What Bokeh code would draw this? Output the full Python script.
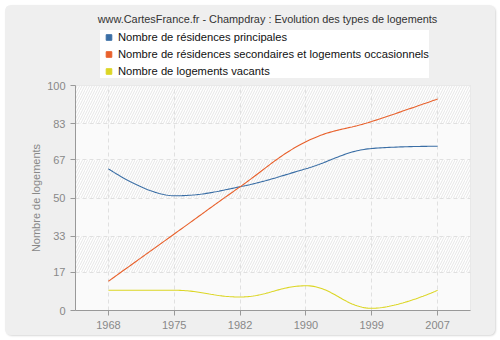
import numpy as np
from bokeh.plotting import figure
from bokeh.layouts import column
from bokeh.models import (ColumnDataSource, FixedTicker, Range1d, Legend, LegendItem)
from bokeh.core.properties import value
from bokeh.embed import file_html
from bokeh.resources import INLINE

years = ["1968", "1975", "1982", "1990", "1999", "2007"]
principales = [63, 51, 55, 63, 72, 73]
secondaires = [13, 34, 55, 75, 84, 94]
vacants = [9, 9, 6, 11, 1, 9]
y_ticks = [0, 17, 33, 50, 67, 83, 100]

title = "www.CartesFrance.fr - Champdray : Evolution des types de logements"
labels = ["Nombre de résidences principales",
          "Nombre de résidences secondaires et logements occasionnels",
          "Nombre de logements vacants"]
colors = ["#3a6ea5", "#e8612c", "#dcd625"]

FONT = "Liberation Sans"
PANEL = "#efefef"

# Highcharts-like spline rendering of the points (pixel-ish aspect)
SX, SY = 66.0, 2.25

def spline(ys, n=40):
    xs = [i * SX for i in range(len(ys))]
    py = [-v * SY for v in ys]
    m = len(xs)
    left = [None] * m
    right = [None] * m
    sm = 1.5
    d = sm + 1
    for i in range(1, m - 1):
        lx, ly = xs[i - 1], py[i - 1]
        nx, ny = xs[i + 1], py[i + 1]
        x, y = xs[i], py[i]
        lcx = (sm * x + lx) / d
        lcy = (sm * y + ly) / d
        rcx = (sm * x + nx) / d
        rcy = (sm * y + ny) / d
        corr = 0
        if rcx != lcx:
            corr = ((rcy - lcy) * (rcx - x)) / (rcx - lcx) + y - rcy
        lcy += corr
        rcy += corr
        if lcy > ly and lcy > y:
            lcy = max(ly, y); rcy = 2 * y - lcy
        elif lcy < ly and lcy < y:
            lcy = min(ly, y); rcy = 2 * y - lcy
        if rcy > ny and rcy > y:
            rcy = max(ny, y); lcy = 2 * y - rcy
        elif rcy < ny and rcy < y:
            rcy = min(ny, y); lcy = 2 * y - rcy
        left[i] = (lcx, lcy)
        right[i] = (rcx, rcy)
    outx, outy = [xs[0]], [py[0]]
    t = np.linspace(0, 1, n)[1:]
    for i in range(1, m):
        p0 = (xs[i - 1], py[i - 1])
        p1 = right[i - 1] or p0
        p3 = (xs[i], py[i])
        p2 = left[i] or p3
        bx = (1 - t) ** 3 * p0[0] + 3 * (1 - t) ** 2 * t * p1[0] + 3 * (1 - t) * t ** 2 * p2[0] + t ** 3 * p3[0]
        by = (1 - t) ** 3 * p0[1] + 3 * (1 - t) ** 2 * t * p1[1] + 3 * (1 - t) * t ** 2 * p2[1] + t ** 3 * p3[1]
        outx.extend(bx.tolist()); outy.extend(by.tolist())
    return [x / SX for x in outx], [-y / SY for y in outy]

# ---------- header figure (title + legend) ----------
# its frame is aligned with the chart's frame by the column layout
top = figure(width=490, height=75, output_backend="svg", toolbar_location=None,
             x_range=Range1d(75, 470), y_range=Range1d(80, 5),
             x_axis_location=None, y_axis_location=None,
             min_border=0, background_fill_color=PANEL, border_fill_color=PANEL,
             outline_line_color=None)
top.grid.visible = False
top.title = None
top.text(x=[267], y=[18], text=[title], text_align="center",
         text_baseline="middle", text_font=value(FONT), text_font_size="10.9px",
         text_color="#333333")

leg_rs = []
for col in colors:
    r = top.scatter(x=[-100], y=[-100], marker="square", size=7, fill_color=col, line_color=col)
    leg_rs.append(r)
legend = Legend(items=[LegendItem(label=l, renderers=[r]) for l, r in zip(labels, leg_rs)],
                location=(25, 2), orientation="vertical",
                background_fill_color="#ffffff", background_fill_alpha=1,
                border_line_color=None, label_text_font=FONT, label_text_font_size="11.2px",
                label_text_color="#111111", glyph_width=17, glyph_height=14,
                label_height=14, spacing=3, padding=2, margin=0, label_standoff=1)
top.add_layout(legend, "center")

# ---------- main chart ----------
p = figure(width=490, height=255, output_backend="svg", toolbar_location=None,
           x_range=Range1d(-0.5, 5.5), y_range=Range1d(0, 100),
           min_border_left=70, min_border_right=25, min_border_top=5, min_border_bottom=25,
           background_fill_color="#ffffff", border_fill_color=PANEL,
           outline_line_color="#e2e2e2")
p.title = None

bottoms = y_ticks[:-1]
tops = y_ticks[1:]
hatched = [i % 2 == 1 for i in range(len(bottoms))]
band_src = ColumnDataSource(dict(
    b=[b for b, h in zip(bottoms, hatched) if h], t=[t for t, h in zip(tops, hatched) if h]))
plain_src = ColumnDataSource(dict(
    b=[b for b, h in zip(bottoms, hatched) if not h], t=[t for t, h in zip(tops, hatched) if not h]))
p.quad(left=-0.5, right=5.5, bottom="b", top="t", source=plain_src, fill_color="#fafafa",
       line_color=None, level="image")
p.quad(left=-0.5, right=5.5, bottom="b", top="t", source=band_src, fill_color="#ffffff",
       line_color=None, hatch_pattern="/", hatch_color="#e6e6e6", hatch_scale=5,
       hatch_weight=1, level="image")

for vals, col in zip([principales, secondaires, vacants], colors):
    sx, sy = spline(vals)
    p.line(sx, sy, line_color=col, line_width=1.1)

p.xaxis.ticker = FixedTicker(ticks=list(range(len(years))))
p.xaxis.major_label_overrides = {i: y for i, y in enumerate(years)}
p.yaxis.ticker = FixedTicker(ticks=y_ticks)
for ax in (p.xaxis[0], p.yaxis[0]):
    ax.axis_line_color = "#999999"
    ax.major_tick_line_color = "#999999"
    ax.major_tick_out = 5
    ax.major_tick_in = 0
    ax.minor_tick_line_color = None
    ax.major_label_text_color = "#888888"
    ax.major_label_text_font = FONT
    ax.major_label_text_font_size = "11px"
p.yaxis.axis_label = "Nombre de logements"
p.yaxis.axis_label_text_font = FONT
p.yaxis.axis_label_text_font_size = "11px"
p.yaxis.axis_label_text_font_style = "normal"
p.yaxis.axis_label_text_color = "#888888"
p.yaxis.axis_label_standoff = 2

for g in (p.xgrid[0], p.ygrid[0]):
    g.grid_line_color = "#e0e0e0"
    g.grid_line_dash = "4 3"
    g.grid_line_width = 1
p.xgrid.ticker = FixedTicker(ticks=list(range(len(years))))
p.ygrid.ticker = FixedTicker(ticks=y_ticks)

layout = column(top, p, spacing=0)
layout.styles = {"margin": "5px 0 0 5px", "border-radius": "6px", "overflow": "hidden",
                 "background-color": PANEL, "box-shadow": "1px 1px 2px #d8d8d8"}

open("out.html", "w").write(file_html(layout, INLINE))
